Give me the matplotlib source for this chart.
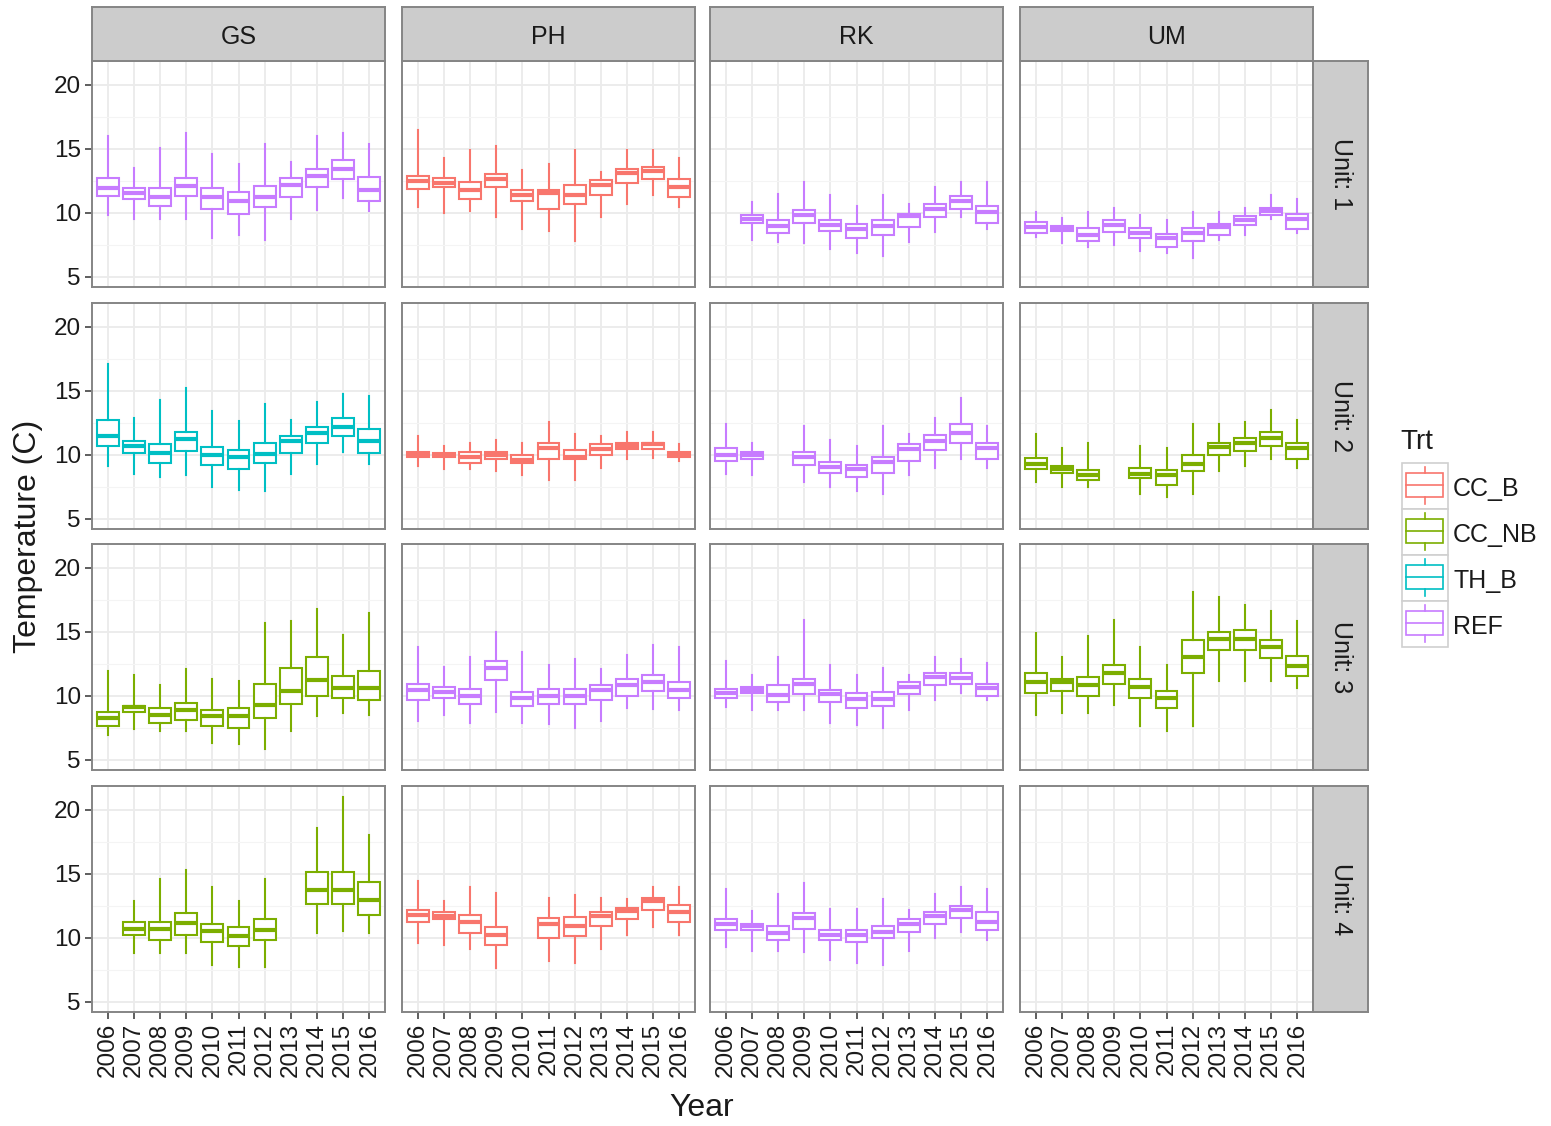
import numpy as np
import matplotlib.pyplot as plt
from matplotlib.patches import Rectangle

plt.rcParams['font.family'] = ['Liberation Sans', 'DejaVu Sans']

years = [2006, 2007, 2008, 2009, 2010, 2011, 2012, 2013, 2014, 2015, 2016]
sites = ['GS', 'PH', 'RK', 'UM']
units = ['Unit: 1', 'Unit: 2', 'Unit: 3', 'Unit: 4']
trts = ['CC_B', 'CC_NB', 'TH_B', 'REF']
trt_colors = {'CC_B': '#F8766D', 'CC_NB': '#7CAE00', 'TH_B': '#00BFC4', 'REF': '#C77CFF'}

# treatment in each panel, rows = unit, cols = site
panel_trt = [['REF', 'CC_B', 'REF', 'REF'],
             ['TH_B', 'CC_B', 'REF', 'CC_NB'],
             ['CC_NB', 'REF', 'REF', 'CC_NB'],
             ['CC_NB', 'CC_B', 'REF', None]]

# per year: (whisker low, q1, median, q3, whisker high); None = no data
gs_1 = [(9.8, 11.3, 11.9, 12.7, 16.0), (9.5, 11.1, 11.55, 11.9, 13.5), (9.5, 10.5, 11.25, 11.9, 15.05),
        (9.5, 11.3, 12.1, 12.7, 16.2), (8.05, 10.3, 11.2, 11.9, 14.6), (8.3, 9.9, 10.9, 11.6, 13.8),
        (7.9, 10.45, 11.2, 12.05, 15.4), (9.5, 11.2, 12.2, 12.7, 14.0), (10.25, 12.0, 12.9, 13.45, 16.0),
        (11.15, 12.65, 13.45, 14.15, 16.2), (10.1, 10.9, 11.8, 12.8, 15.4)]
ph_1 = [(10.45, 11.85, 12.45, 12.85, 16.5), (9.95, 12.0, 12.3, 12.7, 14.3), (10.1, 11.1, 11.8, 12.4, 14.9),
        (9.7, 12.0, 12.65, 13.0, 15.2), (8.7, 10.9, 11.35, 11.75, 13.35), (8.6, 10.3, 11.55, 11.75, 13.8),
        (7.8, 10.7, 11.4, 12.2, 14.9), (9.7, 11.4, 12.2, 12.55, 13.2), (10.65, 12.35, 13.1, 13.45, 14.9),
        (11.4, 12.65, 13.25, 13.6, 14.9), (10.45, 11.25, 12.0, 12.65, 14.3)]
rk_1 = [None, (7.9, 9.2, 9.5, 9.8, 10.8), (7.7, 8.45, 9.0, 9.45, 11.5),
        (7.6, 9.2, 9.85, 10.2, 12.4), (7.15, 8.6, 9.05, 9.45, 11.35), (6.85, 8.0, 8.7, 9.1, 10.55),
        (6.65, 8.25, 8.95, 9.45, 11.35), (7.7, 8.9, 9.75, 9.9, 10.7), (8.5, 9.7, 10.3, 10.65, 12.0),
        (9.65, 10.3, 10.9, 11.3, 12.4), (8.7, 9.2, 10.05, 10.5, 12.4)]
um_1 = [(8.1, 8.45, 8.9, 9.3, 10.05), (7.6, 8.6, 8.8, 8.95, 9.55), (7.3, 7.8, 8.25, 8.8, 10.05),
        (7.5, 8.5, 9.05, 9.4, 10.4), (7.0, 8.0, 8.4, 8.8, 9.8), (6.85, 7.35, 8.0, 8.35, 9.45),
        (6.5, 7.8, 8.4, 8.8, 10.05), (7.9, 8.25, 8.85, 9.15, 10.05), (8.25, 9.05, 9.45, 9.75, 10.4),
        (9.5, 9.8, 10.15, 10.35, 11.35), (8.45, 8.7, 9.5, 9.9, 11.05)]

gs_2 = [(9.15, 10.65, 11.5, 12.7, 17.1), (8.5, 10.15, 10.7, 11.1, 12.85), (8.25, 9.35, 10.1, 10.8, 14.25),
        (8.4, 10.3, 11.25, 11.75, 15.2), (7.45, 9.2, 9.95, 10.6, 13.4), (7.25, 8.9, 9.8, 10.35, 12.6),
        (7.15, 9.35, 10.05, 10.95, 14.0), (8.5, 10.15, 11.05, 11.45, 12.7), (9.3, 10.9, 11.7, 12.2, 14.15),
        (10.25, 11.45, 12.15, 12.85, 14.75), (9.3, 10.15, 11.05, 12.0, 14.6)]
ph_2 = [(9.15, 9.8, 10.05, 10.2, 11.5), (8.85, 9.8, 9.95, 10.1, 10.7), (8.85, 9.35, 9.85, 10.2, 10.95),
        (8.7, 9.65, 9.95, 10.2, 11.15), (8.4, 9.35, 9.6, 10.0, 10.95), (8.05, 9.65, 10.5, 10.95, 12.55),
        (8.05, 9.65, 9.85, 10.35, 11.6), (9.0, 10.0, 10.45, 10.85, 11.45), (9.65, 10.45, 10.7, 10.95, 11.75),
        (9.75, 10.45, 10.8, 10.95, 11.75), (9.5, 9.8, 10.05, 10.2, 10.85)]
rk_2 = [(8.5, 9.5, 10.0, 10.5, 12.4), (8.4, 9.65, 9.95, 10.2, 10.95), None,
        (7.9, 9.2, 9.8, 10.2, 12.25), (7.45, 8.55, 9.05, 9.4, 11.15), (7.15, 8.25, 8.9, 9.2, 10.7),
        (6.95, 8.55, 9.45, 9.85, 12.25), (8.4, 9.5, 10.45, 10.8, 11.65), (9.0, 10.35, 11.1, 11.55, 12.85),
        (9.65, 10.9, 11.7, 12.4, 14.4), (9.0, 9.65, 10.5, 10.95, 12.25)]
um_2 = [(7.9, 8.9, 9.3, 9.75, 11.6), (7.45, 8.55, 8.9, 9.15, 10.5), (7.45, 8.0, 8.4, 8.8, 10.95),
        None, (6.95, 8.15, 8.5, 8.95, 10.7), (6.7, 7.65, 8.4, 8.8, 10.5),
        (6.95, 8.7, 9.3, 10.0, 12.4), (8.7, 10.0, 10.6, 10.95, 12.4), (9.15, 10.3, 10.9, 11.3, 12.55),
        (9.65, 10.65, 11.3, 11.75, 13.5), (9.0, 9.65, 10.5, 10.95, 12.7)]

gs_3 = [(6.95, 7.65, 8.25, 8.75, 11.95), (7.4, 8.75, 9.1, 9.2, 11.6), (7.25, 7.9, 8.5, 9.05, 10.85),
        (7.25, 8.1, 8.9, 9.4, 12.1), (6.3, 7.65, 8.4, 8.9, 11.3), (6.2, 7.5, 8.4, 9.05, 11.15),
        (5.85, 8.25, 9.3, 10.9, 15.65), (7.25, 9.35, 10.4, 12.2, 15.8), (8.4, 10.0, 11.25, 13.0, 16.75),
        (8.65, 9.8, 10.6, 11.55, 14.75), (8.5, 9.65, 10.6, 11.9, 16.45)]
ph_3 = [(8.05, 9.65, 10.45, 10.95, 13.8), (8.5, 9.85, 10.3, 10.65, 12.25), (7.9, 9.35, 9.95, 10.5, 13.05),
        (8.7, 11.25, 12.15, 12.7, 14.95), (7.9, 9.2, 9.8, 10.3, 13.45), (7.8, 9.35, 9.95, 10.5, 12.4),
        (7.45, 9.35, 9.95, 10.5, 12.85), (8.05, 9.65, 10.45, 10.85, 12.1), (9.05, 10.0, 10.8, 11.3, 13.15),
        (9.0, 10.35, 11.05, 11.6, 13.95), (8.85, 9.8, 10.45, 11.1, 13.8)]
rk_3 = [(9.15, 9.8, 10.2, 10.5, 12.7), (8.85, 10.2, 10.45, 10.65, 11.6), (8.85, 9.5, 10.05, 10.8, 13.05),
        (8.85, 10.15, 10.9, 11.3, 15.95), (7.9, 9.5, 10.1, 10.45, 12.4), (7.7, 9.05, 9.75, 10.2, 11.6),
        (7.45, 9.2, 9.75, 10.3, 12.2), (8.85, 10.15, 10.7, 11.1, 11.6), (9.65, 10.8, 11.45, 11.75, 13.05),
        (10.25, 10.9, 11.35, 11.75, 12.85), (9.65, 10.0, 10.6, 10.95, 12.55)]
um_3 = [(8.5, 10.25, 11.1, 11.75, 14.9), (8.65, 10.4, 11.05, 11.3, 13.05), (8.65, 9.95, 10.85, 11.45, 14.7),
        (9.3, 10.9, 11.8, 12.4, 15.95), (7.6, 9.8, 10.7, 11.3, 13.8), (7.25, 9.05, 9.8, 10.35, 12.4),
        (7.6, 11.8, 13.05, 14.35, 18.1), (11.15, 13.6, 14.45, 15.0, 17.7), (11.15, 13.6, 14.45, 15.15, 17.1),
        (11.15, 12.95, 13.8, 14.35, 16.6), (10.6, 11.55, 12.3, 13.1, 15.85)]

gs_4 = [None, (8.8, 10.25, 10.7, 11.25, 12.85), (8.8, 9.8, 10.7, 11.25, 14.55),
        (8.8, 10.25, 11.15, 11.9, 15.3), (7.85, 9.65, 10.55, 11.1, 13.95), (7.7, 9.35, 10.1, 10.8, 12.85),
        (7.7, 9.8, 10.6, 11.45, 14.55), None, (10.4, 12.65, 13.7, 15.1, 18.6),
        (10.55, 12.65, 13.7, 15.1, 21.0), (10.4, 11.8, 12.95, 14.35, 18.0)]
ph_4 = [(9.6, 11.2, 11.75, 12.2, 14.4), (9.45, 11.45, 11.7, 12.0, 12.85), (9.15, 10.4, 11.25, 11.75, 13.95),
        (7.6, 9.45, 10.25, 10.8, 13.5), None, (8.2, 9.95, 11.1, 11.55, 13.1),
        (8.0, 10.1, 10.9, 11.6, 13.3), (9.15, 10.9, 11.7, 12.0, 13.1), (10.2, 11.5, 12.1, 12.35, 13.0),
        (10.85, 12.15, 12.85, 13.1, 13.95), (10.2, 11.2, 12.0, 12.55, 13.95)]
rk_4 = [(9.25, 10.6, 11.05, 11.45, 13.8), (9.0, 10.6, 10.9, 11.1, 12.1), (9.0, 9.8, 10.4, 10.9, 13.4),
        (8.85, 10.7, 11.55, 11.9, 14.25), (8.25, 9.8, 10.25, 10.6, 12.25), (8.05, 9.65, 10.2, 10.6, 12.25),
        (7.9, 9.95, 10.45, 10.95, 13.0), (9.0, 10.45, 11.05, 11.45, 12.2), (9.95, 11.1, 11.7, 12.0, 13.4),
        (10.45, 11.55, 12.2, 12.5, 13.95), (9.8, 10.6, 11.25, 12.0, 13.8)]
um_4 = [None] * 11

panel_data = [[gs_1, ph_1, rk_1, um_1],
              [gs_2, ph_2, rk_2, um_2],
              [gs_3, ph_3, rk_3, um_3],
              [gs_4, ph_4, rk_4, um_4]]

W, H = 1551, 1126
fig = plt.figure(figsize=(W / 100, H / 100), dpi=100)

col_left = [92, 402, 710, 1020]
row_top = [61, 303, 544, 786]
pw, ph = 293, 226
border = '#858585'
strip_bg = '#CCCCCC'


def px_axes(x, y, w, h):
    return fig.add_axes([x / W, 1 - (y + h) / H, w / W, h / H])


def draw_panel(ax, stats, color):
    bx, pos = [], []
    for i, s in enumerate(stats):
        if s is None:
            continue
        lo, q1, med, q3, hi = s
        bx.append(dict(whislo=lo, q1=q1, med=med, q3=q3, whishi=hi, fliers=[]))
        pos.append(i)
    if not bx:
        return
    ax.bxp(bx, positions=pos, widths=0.84, showcaps=False, showfliers=False,
           patch_artist=True, manage_ticks=False,
           boxprops=dict(facecolor='white', edgecolor=color, linewidth=1.5),
           medianprops=dict(color=color, linewidth=3.0, solid_capstyle='butt'),
           whiskerprops=dict(color=color, linewidth=1.5))


for r in range(4):
    for c in range(4):
        ax = px_axes(col_left[c], row_top[r], pw, ph)
        ax.set_xlim(-0.6, 10.6)
        ax.set_ylim(4.2, 21.85)
        ax.set_xticks(range(len(years)))
        ax.set_yticks([5, 10, 15, 20])
        ax.set_yticks([7.5, 12.5, 17.5], minor=True)
        ax.set_axisbelow(True)
        ax.grid(which='major', color='#EBEBEB', linewidth=1.3)
        ax.grid(which='minor', axis='y', color='#F4F4F4', linewidth=0.8)
        for sp in ax.spines.values():
            sp.set_color(border)
            sp.set_linewidth(1.4)
        ax.tick_params(which='minor', length=0)
        ax.tick_params(which='major', color='#333333', length=5, width=1.1,
                       labelsize=17.5, labelcolor='#1A1A1A', pad=3)
        if c == 0:
            ax.set_yticklabels(['5', '10', '15', '20'])
        else:
            ax.tick_params(axis='y', length=0, labelleft=False)
        if r == 3:
            ax.set_xticklabels([str(y) for y in years], rotation=90, va='top', ha='center')
        else:
            ax.tick_params(axis='x', length=0, labelbottom=False)
        trt = panel_trt[r][c]
        if trt is not None:
            draw_panel(ax, panel_data[r][c], trt_colors[trt])

# facet strips
for c, name in enumerate(sites):
    sa = px_axes(col_left[c], 7, pw, 54)
    sa.set_facecolor(strip_bg)
    sa.set_xticks([])
    sa.set_yticks([])
    for sp in sa.spines.values():
        sp.set_color(border)
        sp.set_linewidth(1.4)
    sa.text(0.5, 0.45, name, ha='center', va='center', fontsize=18, color='#1A1A1A',
            transform=sa.transAxes)
for r, name in enumerate(units):
    sa = px_axes(1313, row_top[r], 55, ph)
    sa.set_facecolor(strip_bg)
    sa.set_xticks([])
    sa.set_yticks([])
    for sp in sa.spines.values():
        sp.set_color(border)
        sp.set_linewidth(1.4)
    sa.text(0.5, 0.5, name, ha='center', va='center', rotation=270, fontsize=18,
            color='#1A1A1A', transform=sa.transAxes)

# overlay in pixel coordinates for titles and legend
ov = fig.add_axes([0, 0, 1, 1])
ov.set_xlim(0, W)
ov.set_ylim(H, 0)
ov.axis('off')
ov.patch.set_alpha(0)

ov.text(702, 1108, 'Year', ha='center', va='center', fontsize=23, color='#1A1A1A')
ov.text(28, 536, 'Temperature (C)', ha='center', va='center', rotation=90,
        fontsize=23, color='#1A1A1A')

ov.text(1400, 442, 'Trt', ha='left', va='center', fontsize=20, color='#1A1A1A')
for k, t in enumerate(trts):
    col = trt_colors[t]
    top = 463 + 46 * k
    ov.add_patch(Rectangle((1402, top), 46, 46, facecolor='white', edgecolor='#D0D0D0',
                           linewidth=1.2))
    ov.plot([1425, 1425], [top + 4, top + 10], color=col, linewidth=1.2)
    ov.plot([1425, 1425], [top + 34, top + 41], color=col, linewidth=1.2)
    ov.add_patch(Rectangle((1406, top + 10), 37, 24, facecolor='white', edgecolor=col,
                           linewidth=1.2))
    ov.plot([1406, 1443], [top + 22, top + 22], color=col, linewidth=1.2)
    ov.text(1453, top + 26, t, ha='left', va='center', fontsize=18, color='#1A1A1A')

fig.savefig('out.png', dpi=100)
